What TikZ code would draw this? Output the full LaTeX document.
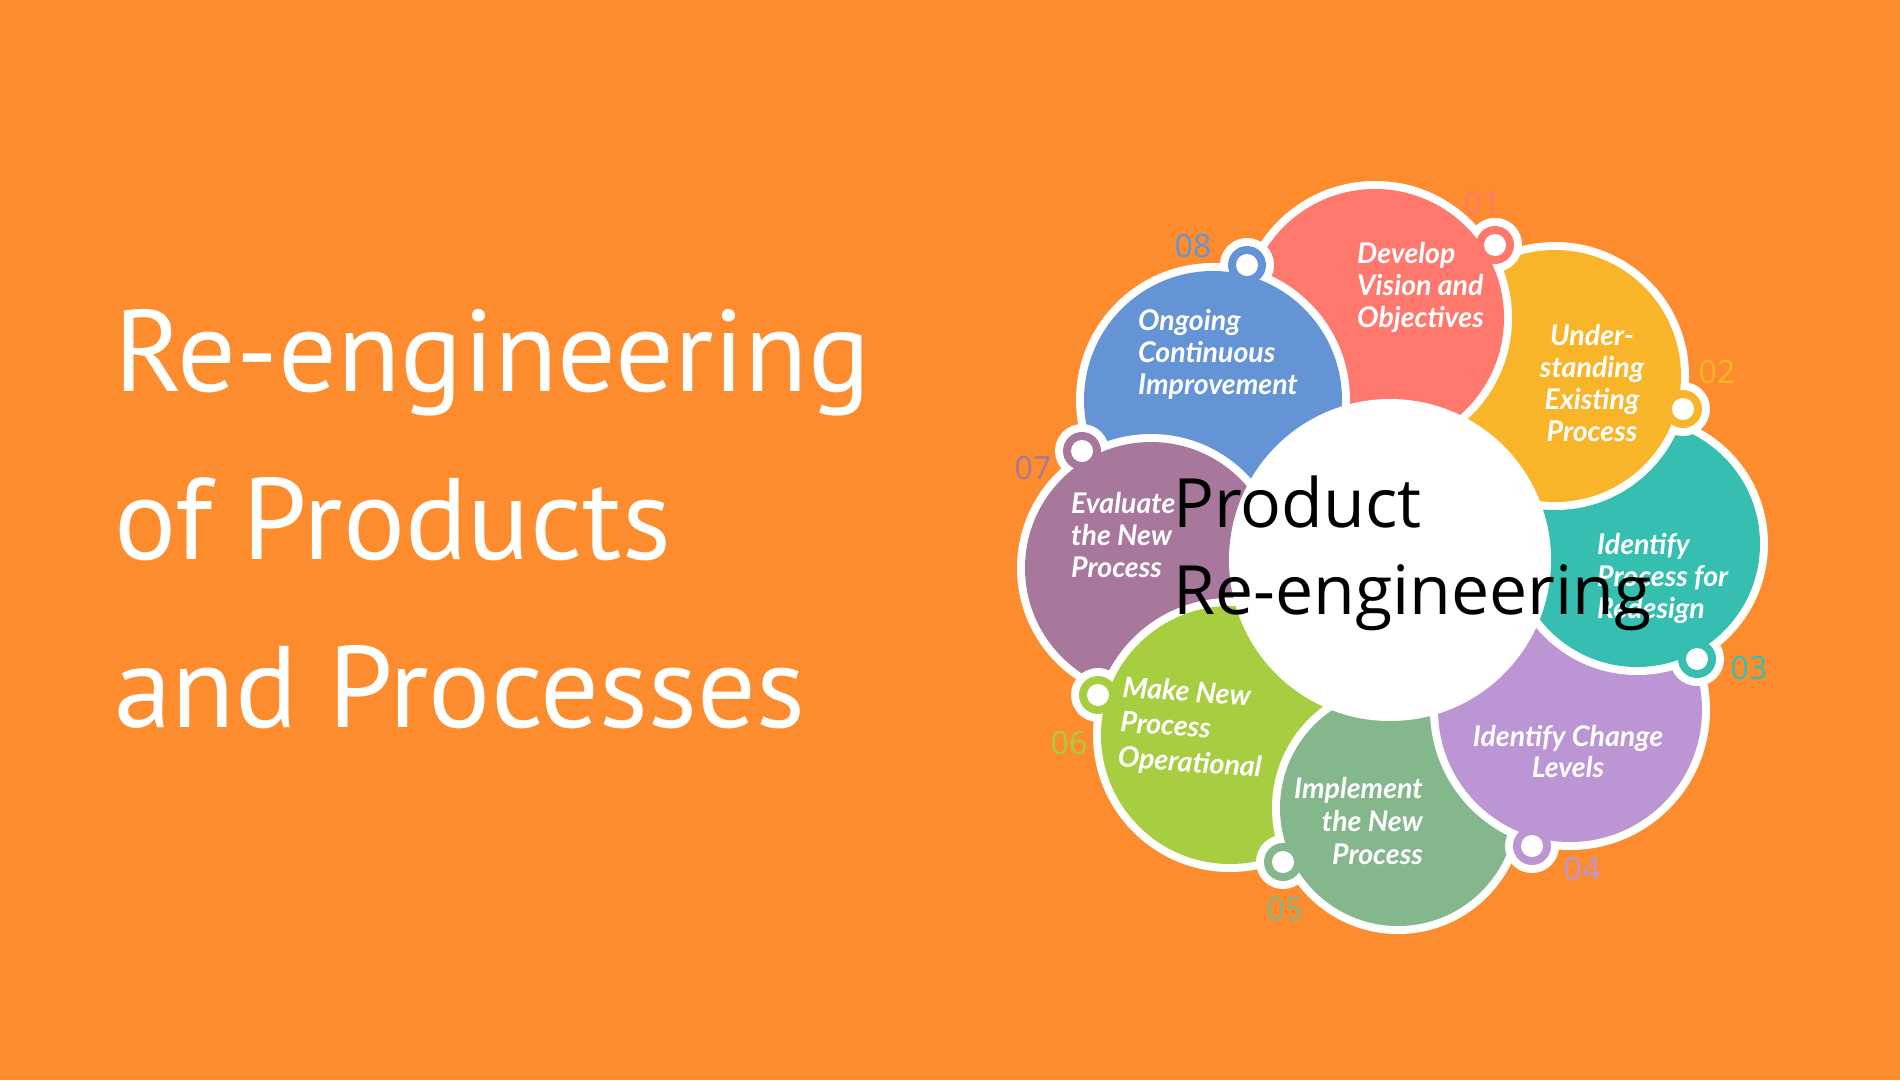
\documentclass[tikz,border=0pt]{standalone}
\usepackage{fontspec}
\newfontfamily\titlefont{PT Sans}
\newfontfamily\centerfont{Open Sans}
\newfontfamily\petalfont{Lato}
\newfontfamily\numfont{Open Sans}
\definecolor{bg}{HTML}{FD8C2E}
\definecolor{p1}{HTML}{FF786E}
\definecolor{p2}{HTML}{F9B52A}
\definecolor{p3}{HTML}{36BEB1}
\definecolor{p4}{HTML}{BC95D4}
\definecolor{p5}{HTML}{84B78C}
\definecolor{p6}{HTML}{A6CE40}
\definecolor{p7}{HTML}{A7779C}
\definecolor{p8}{HTML}{6594D6}
\newcommand\drawpetal[6]{%
  \fill[white] (#1,#2) circle[radius=#3];
  \fill[white] (#4,#5) circle[radius=27];
  \fill[#6] (#1,#2) circle[radius=#3-8];
  \fill[#6] (#4,#5) circle[radius=19];
  \fill[white] (#4,#5) circle[radius=11];
}
\begin{document}
\begin{tikzpicture}[x=1pt,y=-1pt,
  petaltext/.style={text=white, inner sep=0pt, font=\petalfont\bfseries\itshape\fontsize{28.5}{32}\selectfont},
  numtext/.style={inner sep=0pt, font=\numfont\fontsize{32}{32}\selectfont},
]
\useasboundingbox (0,0) rectangle (1900,1080);
\fill[bg] (0,0) rectangle (1900,1080);

% title
\node[inner sep=0pt, anchor=base west, text=white, font=\titlefont\fontsize{116}{168}\selectfont] (title) at (114,391)
  {\begin{tabular}[t]{@{}l@{}}Re-engineering\\of Products\\and Processes\end{tabular}};

% petals (cyclic overlap)
\drawpetal{1375}{318}{137}{1495}{245}{p1}
\drawpetal{1213}{400}{137}{1247}{265}{p8}
\drawpetal{1151}{568}{134}{1082}{451}{p7}
\drawpetal{1230}{735}{137}{1098}{695}{p6}
\drawpetal{1398}{808}{126}{1283}{862}{p5}
\drawpetal{1570}{710}{140}{1532}{846}{p4}
\drawpetal{1637}{544}{131}{1697}{659}{p3}
\drawpetal{1555}{376}{134}{1683}{409}{p2}
\begin{scope}
  \clip (1400,0) rectangle (1900,1080);
  \drawpetal{1375}{318}{137}{1495}{245}{p1}
\end{scope}
\fill[white] (1390,560) circle[radius=161];

% petal texts
\node[petaltext, anchor=base west] (t1) at (1357,263)
  {\begin{tabular}[t]{@{}l@{}}Develop\\Vision and\\Objectives\end{tabular}};
\node[petaltext, anchor=base] (t2) at (1592,345)
  {\begin{tabular}[t]{@{}c@{}}Under-\\standing\\Existing\\Process\end{tabular}};
\node[petaltext, anchor=base west] (t3) at (1597,554)
  {\begin{tabular}[t]{@{}l@{}}Identify\\Process for\\Redesign\end{tabular}};
\node[petaltext, anchor=base, font=\petalfont\bfseries\itshape\fontsize{28.5}{31}\selectfont] (t4) at (1568,746)
  {\begin{tabular}[t]{@{}c@{}}Identify Change\\Levels\end{tabular}};
\node[petaltext, anchor=base east, font=\petalfont\bfseries\itshape\fontsize{28.5}{33}\selectfont] (t5) at (1423,798)
  {\begin{tabular}[t]{@{}r@{}}Implement\\the New\\Process\end{tabular}};
\node[petaltext, anchor=base west, rotate=-4, font=\petalfont\bfseries\itshape\fontsize{28.5}{35}\selectfont] (t6) at (1122,697)
  {\begin{tabular}[t]{@{}l@{}}Make New\\Process\\Operational\end{tabular}};
\node[petaltext, anchor=base west] (t7) at (1071,513)
  {\begin{tabular}[t]{@{}l@{}}Evaluate\\the New\\Process\end{tabular}};
\node[petaltext, anchor=base west] (t8) at (1138,330)
  {\begin{tabular}[t]{@{}l@{}}Ongoing\\Continuous\\Improvement\end{tabular}};

% numbers
\node[numtext, text=p1] (n1) at (1482,203) {01};
\node[numtext, text=p2] (n2) at (1717,372) {02};
\node[numtext, text=p3] (n3) at (1749,668) {03};
\node[numtext, text=p4] (n4) at (1582,869) {04};
\node[numtext, text=p5] (n5) at (1285,909) {05};
\node[numtext, text=p6] (n6) at (1069,743) {06};
\node[numtext, text=p7] (n7) at (1033,468) {07};
\node[numtext, text=p8] (n8) at (1193,246) {08};

% center text
\node[inner sep=0pt, anchor=base west, text=black, font=\centerfont\fontsize{68}{87}\selectfont] (ctr) at (1173,527)
  {\begin{tabular}[t]{@{}l@{}}Product\\Re-engineering\end{tabular}};
\end{tikzpicture}
\end{document}
